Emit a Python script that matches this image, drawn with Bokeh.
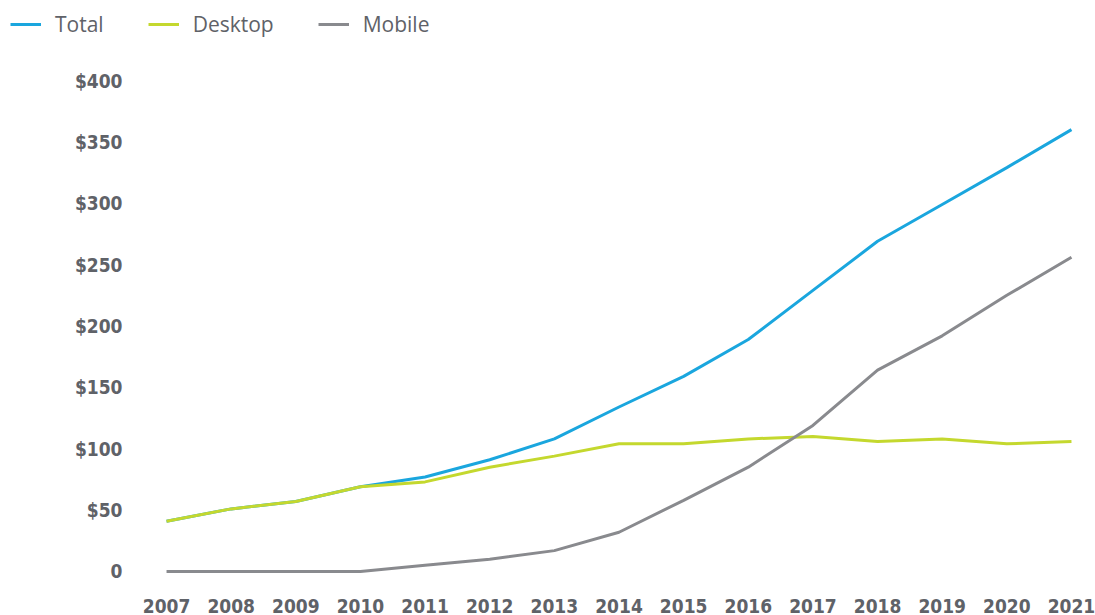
from bokeh.plotting import figure
from bokeh.layouts import column
from bokeh.models import FixedTicker, Legend, LegendItem, Range1d
from bokeh.embed import file_html
from bokeh.resources import INLINE

years = list(range(2007, 2022))
total = [41, 51, 57, 69, 77, 91, 108, 134, 159, 189, 229, 269, 299, 329, 360]
desktop = [41, 51, 57, 69, 73, 85, 94, 104, 104, 108, 110, 106, 108, 104, 106]
mobile = [0, 0, 0, 0, 5, 10, 17, 32, 58, 85, 119, 164, 192, 225, 256]
y_ticks = [0, 50, 100, 150, 200, 250, 300, 350, 400]
y_labels = ["0", "$50", "$100", "$150", "$200", "$250", "$300", "$350", "$400"]
series_names = ["Total", "Desktop", "Mobile"]
colors = ["#1aa6de", "#c4d82e", "#898a8e"]

label_color = "#5f6268"
tick_font = "DejaVu Sans Condensed"

# legend strip (its own small figure so the legend can sit at the page's left edge)
top = figure(width=1095, height=48, output_backend="svg", toolbar_location=None,
             x_axis_type=None, y_axis_type=None, min_border=0,
             x_range=Range1d(0, 1), y_range=Range1d(0, 1))
top.frame_align = False
top.outline_line_color = None
top.grid.grid_line_color = None
leg_renderers = [top.line([5, 6], [5, 6], line_color=c, line_width=3) for c in colors]
legend = Legend(items=[LegendItem(label=n, renderers=[r]) for n, r in zip(series_names, leg_renderers)],
                orientation="horizontal", location=(10, 10),
                glyph_width=31, glyph_height=20, label_standoff=14, spacing=44,
                padding=0, margin=0, border_line_color=None, background_fill_alpha=0,
                label_text_font="Open Sans", label_text_font_size="21px",
                label_text_color=label_color)
top.add_layout(legend)

p = figure(width=1095, height=567, output_backend="svg", toolbar_location=None,
           x_range=Range1d(2006.752, 2021.248), y_range=Range1d(-13.85, 416.3),
           min_border_left=150, min_border_right=8, min_border_top=12, min_border_bottom=27)
p.frame_align = False
p.outline_line_color = None
p.grid.grid_line_color = None

for ys, c in zip([total, desktop, mobile], colors):
    p.line(years, ys, line_color=c, line_width=3)

p.yaxis.ticker = FixedTicker(ticks=y_ticks)
p.yaxis.major_label_overrides = {t: l for t, l in zip(y_ticks, y_labels)}
p.xaxis.ticker = FixedTicker(ticks=years)
p.xaxis.major_label_overrides = {y: str(y) for y in years}
for ax in (p.xaxis, p.yaxis):
    ax.axis_line_color = None
    ax.major_tick_line_color = None
    ax.minor_tick_line_color = None
    ax.major_label_text_font = tick_font
    ax.major_label_text_font_style = "bold"
    ax.major_label_text_font_size = "19px"
    ax.major_label_text_color = label_color
p.yaxis.major_label_standoff = 22
p.xaxis.major_label_standoff = 4

layout = column(top, p, spacing=0)
open("out.html", "w").write(file_html(layout, INLINE))
